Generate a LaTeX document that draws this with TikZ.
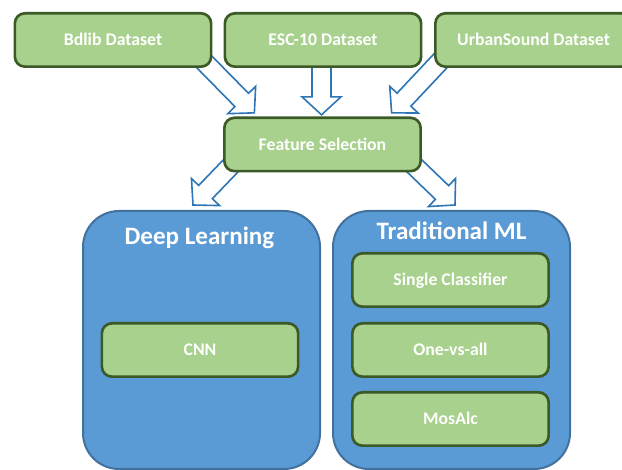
\documentclass[tikz,border=0pt]{standalone}
\usepackage{fontspec}
\setmainfont{Carlito}
\usetikzlibrary{calc,backgrounds}
\definecolor{gfill}{HTML}{A9D18E}
\definecolor{gdraw}{HTML}{3B5A26}
\definecolor{bfill}{HTML}{5B9BD5}
\definecolor{bdraw}{HTML}{41719C}
\definecolor{ablue}{HTML}{2E75B6}
\tikzset{
 gbox/.style={draw=gdraw, fill=gfill, line width=2pt, rounded corners=7.5pt,
   minimum width=147.2pt, minimum height=40pt, inner sep=0pt, outer sep=0pt,
   text=white, font=\bfseries\fontsize{13.3}{16}\selectfont, text height=8.6pt, text depth=0pt},
 container/.style={draw=bdraw, fill=bfill, line width=1.5pt, rounded corners=27pt,
   minimum width=177.75pt, minimum height=193.5pt, inner sep=0pt, outer sep=0pt},
 titletext/.style={text=white, font=\bfseries\fontsize{18.8}{22}\selectfont, inner sep=0pt, anchor=base},
 blockarrow/.style={draw=ablue, fill=white, line width=1.2pt, line join=miter,
   to path={let \p1=(\tikztostart), \p2=(\tikztotarget),
     \n1={veclen(\x2-\x1,\y2-\y1)}, \n2={(\x2-\x1)/\n1}, \n3={(\y2-\y1)/\n1} in
     ({\x1+7.125*\n3},{\y1-7.125*\n2})
     -- ({\x1+(\n1-13.5)*\n2+7.125*\n3},{\y1+(\n1-13.5)*\n3-7.125*\n2})
     -- ({\x1+(\n1-13.5)*\n2+14.625*\n3},{\y1+(\n1-13.5)*\n3-14.625*\n2})
     -- (\tikztotarget)
     -- ({\x1+(\n1-13.5)*\n2-14.625*\n3},{\y1+(\n1-13.5)*\n3+14.625*\n2})
     -- ({\x1+(\n1-13.5)*\n2-7.125*\n3},{\y1+(\n1-13.5)*\n3+7.125*\n2})
     -- ({\x1-7.125*\n3},{\y1+7.125*\n2}) -- cycle}}
}
\begin{document}
\begin{tikzpicture}[x=0.75pt,y=-0.75pt]
\useasboundingbox (0,0) rectangle (622,470);
\clip (0,0) rectangle (622,470);
% top datasets
\node[gbox] (bdlib) at (113,40) {Bdlib Dataset};
\node[gbox] (esc) at (323,40) {ESC-10 Dataset};
\node[gbox] (urban) at (533.5,40) {UrbanSound Dataset};
\node[gbox] (feat) at (322.5,144.5) {Feature Selection};
% containers
\node[container] (deep) at (201.5,340) {};
\node[container] (trad) at (451.5,340) {};
\node[titletext] (deeptitle) at ([shift={(-2,34)}]deep.north) {Deep Learning};
\node[titletext] (tradtitle) at ([shift={(0,29)}]trad.north) {Traditional ML};
\node[gbox] (cnn) at (200,350) {CNN};
\node[gbox] (single) at (450.5,280) {Single Classifier};
\node[gbox] (ova) at (450.5,350) {One-vs-all};
\node[gbox] (mosaic) at (450.5,419) {MosAlc};
% arrow end points
\coordinate (a1s) at ([shift={(-12,-10)}]bdlib.south east);
\coordinate (a1e) at ([shift={(30,-5)}]feat.north west);
\coordinate (a2s) at ($(esc.south -| feat.north)+(-1,-8)$);
\coordinate (a2e) at ([shift={(-1,-3)}]feat.north);
\coordinate (a3s) at ([shift={(9,-10)}]urban.south west);
\coordinate (a3e) at ([shift={(-29,-5)}]feat.north east);
\coordinate (a4s) at ([shift={(8,-7)}]feat.south west);
\coordinate (a4e) at ([shift={(-8.5,-6)}]deep.north);
\coordinate (a5s) at ([shift={(-8,-7)}]feat.south east);
\coordinate (a5e) at ([shift={(3.5,-6)}]trad.north);
\begin{scope}[on background layer]
\draw[blockarrow] (a1s) to (a1e);
\draw[blockarrow] (a2s) to (a2e);
\draw[blockarrow] (a3s) to (a3e);
\draw[blockarrow] (a4s) to (a4e);
\draw[blockarrow] (a5s) to (a5e);
\end{scope}
\end{tikzpicture}
\end{document}
